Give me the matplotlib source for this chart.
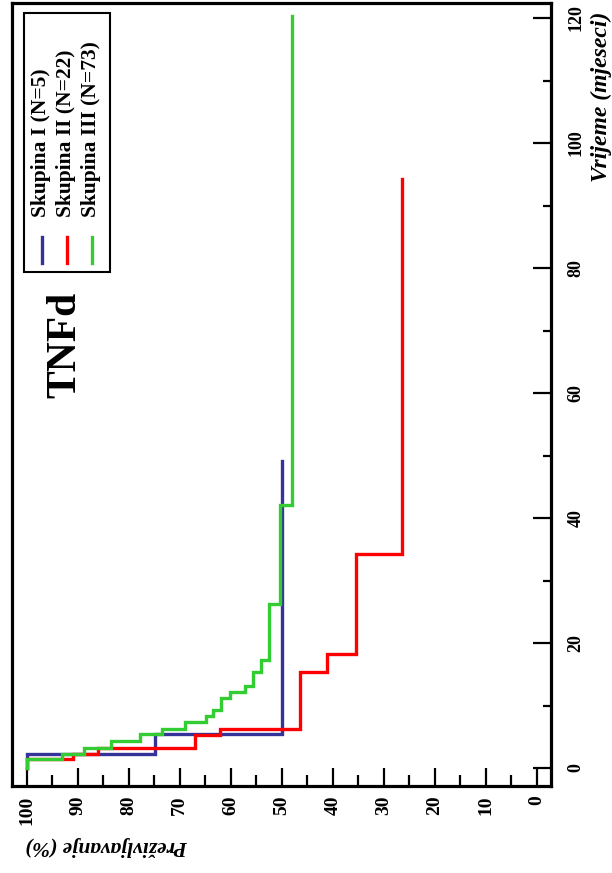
import numpy as np
import matplotlib
matplotlib.use("Agg")
import matplotlib.pyplot as plt
from matplotlib.patches import Rectangle
from matplotlib.lines import Line2D

plt.rcParams['font.family'] = ['Liberation Serif', 'DejaVu Serif']
plt.rcParams['font.weight'] = 'bold'

# Kaplan-Meier curves: drop times (months) and survival (%) after each drop
groups = ['Skupina I (N=5)', 'Skupina II (N=22)', 'Skupina III (N=73)']
colors = ['#333399', '#ff0000', '#33cc33']

t_blue = [2.2, 5.4]
s_blue = [74.9, 50.0]
end_blue = 49.2

t_red = [1.4, 2.2, 3.2, 5.3, 6.3, 15.4, 18.3, 34.3]
s_red = [90.9, 86.0, 67.1, 62.2, 46.5, 41.2, 35.4, 26.4]
end_red = 94.3

t_green = [1.4, 2.2, 3.2, 4.3, 5.4, 6.3, 7.4, 8.3, 9.3, 11.2, 12.2, 13.2,
           15.4, 17.3, 26.2, 42.1]
s_green = [93.0, 88.8, 83.4, 77.7, 73.4, 69.0, 64.8, 63.5, 62.0, 60.2, 57.3,
           55.6, 54.0, 52.5, 50.4, 48.1]
end_green = 120.3

surv_ticks = np.arange(0, 101, 10)
time_ticks = np.arange(0, 121, 20)


def km_xy(times, surv, t_end):
    # survival on x, time on y (chart is turned on its side)
    x = [100.0]
    y = [0.0]
    cur = 100.0
    for t, s in zip(times, surv):
        x += [cur, s]
        y += [t, t]
        cur = s
    x.append(cur)
    y.append(t_end)
    return x, y


W, H = 612, 873
fig = plt.figure(figsize=(W / 100, H / 100), dpi=100)
ax = fig.add_axes([12 / W, 1 - 786 / H, 539 / W, 783 / H])

curves = [(t_blue, s_blue, end_blue), (t_red, s_red, end_red),
          (t_green, s_green, end_green)]
for (t, s, e), c in zip(curves, colors):
    x, y = km_xy(t, s, e)
    ax.plot(x, y, color=c, lw=2.4, solid_joinstyle='miter')

ax.set_xlim(102.86, -2.74)
ax.set_ylim(-2.88, 122.4)

ax.set_xticks(surv_ticks)
ax.set_xticks(np.arange(5, 100, 10), minor=True)
ax.set_yticks(time_ticks)
ax.set_yticks(np.arange(10, 120, 20), minor=True)
ax.yaxis.tick_right()

ax.tick_params(axis='x', which='major', direction='in', length=13, width=1.6,
               pad=7, labelsize=14, labelrotation=90)
ax.tick_params(axis='x', which='minor', direction='in', length=8, width=1.6)
ax.tick_params(axis='y', which='major', direction='in', length=13, width=1.6,
               pad=12, labelsize=13, labelrotation=90)
ax.tick_params(axis='y', which='minor', direction='in', length=6, width=1.6)
for lab in ax.get_yticklabels():
    lab.set_verticalalignment('center')

for sp in ax.spines.values():
    sp.set_linewidth(2.3)

# axis titles
fig.text(601 / W, 1 - 12 / H, 'Vrijeme (mjeseci)', rotation=90, ha='center',
         va='top', fontsize=17, fontstyle='italic', fontweight='bold')
fig.text(25 / W, 1 - 846 / H, 'Preživljavanje (%)', rotation=180, ha='left',
         va='center', fontsize=15.5, fontstyle='italic', fontweight='bold')

# panel title
fig.text(65 / W, 1 - 345 / H, 'TNFd', rotation=90, ha='center', va='center',
         fontsize=30, fontweight='bold')

# legend, turned like the rest of the chart
fig.add_artist(Rectangle((24 / W, 1 - 272 / H), 86 / W, 259 / H,
                         transform=fig.transFigure, fill=False,
                         edgecolor='black', lw=1.5))
for i, (g, c) in enumerate(zip(groups, colors)):
    xc = 42 + 25 * i
    fig.add_artist(Line2D([xc / W, xc / W], [1 - 263 / H, 1 - 237 / H],
                          transform=fig.transFigure, color=c, lw=2.4))
    fig.text((xc - 1) / W, 1 - 217 / H, g, rotation=90, ha='center',
             va='bottom', fontsize=15.5, fontweight='bold')

fig.savefig('out.png', dpi=100)
